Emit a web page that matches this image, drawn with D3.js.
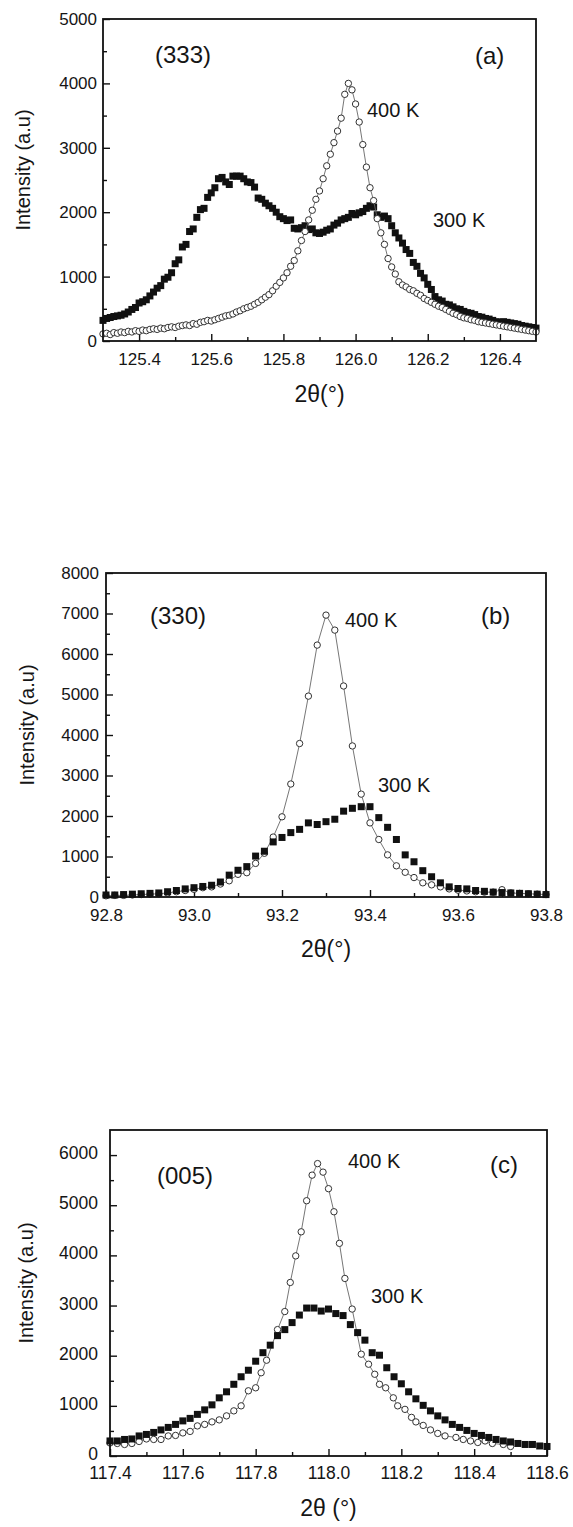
<!DOCTYPE html>
<html>
<head>
<meta charset="utf-8">
<script src="https://cdn.jsdelivr.net/npm/d3@7"></script>
<style>
  body { margin: 0; background: #fff; }
  svg { display: block; }
  text { font-family: "Liberation Sans", Arial, sans-serif; fill: #151515; }
</style>
</head>
<body>
<svg id="chart" width="573" height="1527"></svg>
<script>
// ---------- data ----------
// (a) (333) reflection, 2theta grid 125.30 .. 126.50 every 0.01
var thetaA = d3.range(0, 121).map(i => +(125.30 + i * 0.01).toFixed(2));
var int300a = [
  320, 350, 365, 380, 390, 400, 420, 450, 490, 520,
  590, 610, 640, 700, 760, 820, 860, 960, 990, 1060,
  1200, 1260, 1460, 1500, 1700, 1740, 1920, 2040, 2060, 2230,
  2300, 2380, 2520, 2540, 2470, 2430, 2560, 2560, 2560, 2520,
  2470, 2460, 2390, 2220, 2200, 2140, 2100, 2060, 2000, 1930,
  1900, 1870, 1880, 1750, 1740, 1760, 1790, 1730, 1740, 1680,
  1670, 1690, 1720, 1740, 1800, 1830, 1880, 1900, 1920, 1980,
  1960, 1990, 2010, 2060, 2100, 2080, 1960, 1920, 1940, 1900,
  1790, 1680, 1600, 1520, 1420, 1360, 1220, 1160, 1050, 980,
  880, 800, 690, 640, 620, 570, 560, 530, 500, 490,
  460, 440, 430, 410, 380, 370, 350, 340, 320, 300,
  290, 300, 290, 280, 270, 260, 240, 230, 220, 210,
  200
];
var int400a = [
  110, 120, 100, 130, 120, 140, 130, 150, 140, 160,
  150, 170, 160, 180, 190, 180, 200, 190, 210, 220,
  210, 230, 240, 250, 240, 270, 260, 290, 300, 320,
  310, 330, 350, 370, 390, 400, 420, 450, 470, 500,
  520, 540, 570, 600, 640, 680, 720, 780, 850, 910,
  980, 1060, 1160, 1250, 1400, 1560, 1700, 1880, 2030, 2200,
  2330, 2520, 2720, 2900, 3080, 3260, 3460, 3830, 4000, 3900,
  3680, 3400, 3050, 2700, 2380, 2180, 1900, 1680, 1500, 1280,
  1150, 1040, 920, 870, 840, 800, 780, 740, 710, 660,
  630, 600, 570, 540, 520, 490, 460, 430, 410, 380,
  360, 350, 330, 320, 300, 290, 280, 270, 260, 250,
  240, 230, 220, 210, 200, 190, 180, 170, 160, 150,
  140
];

// (b) (330) reflection, 2theta grid 92.80 .. 93.80 every 0.02
var thetaB = d3.range(0, 51).map(i => +(92.80 + i * 0.02).toFixed(2));
var int300b = [
  50, 50, 60, 70, 80, 90, 100, 130, 160, 200,
  230, 260, 290, 370, 540, 660, 750, 1010, 1130, 1360,
  1470, 1590, 1670, 1830, 1790, 1860, 1920, 2120, 2190, 2230,
  2230, 1960, 1720, 1420, 1040, 870, 650, 500, 350, 250,
  210, 200, 160, 140, 120, 110, 100, 90, 80, 70,
  60
];
var int400b = [
  30, 40, 40, 50, 60, 70, 80, 100, 130, 160,
  190, 230, 250, 320, 400, 560, 600, 830, 1080, 1480,
  1980, 2790, 3790, 4960, 6220, 6960, 6590, 5210, 3730, 2540,
  1830, 1420, 1040, 770, 610, 480, 350, 300, 250, 200,
  170, 150, 130, 120, 120, 180, 100, 90, 80, 70,
  60
];

// (c) (005) reflection
var thetaC300 = d3.range(0, 61).map(i => +(117.40 + i * 0.02).toFixed(2));
var int300c = [
  300, 300, 330, 340, 400, 430, 470, 520, 570, 630,
  700, 750, 830, 920, 1020, 1160, 1280, 1430, 1580, 1710,
  1890, 2060, 2210, 2400, 2520, 2660, 2810, 2950, 2950, 2890,
  2930, 2840, 2800, 2620, 2460, 2310, 2060, 2010, 1760, 1580,
  1440, 1280, 1140, 1010, 900, 800, 720, 630, 570, 510,
  450, 410, 370, 330, 300, 280, 250, 230, 230, 200,
  190
];
var thetaC400 = [
  117.40, 117.42, 117.44, 117.46, 117.48, 117.50, 117.52, 117.54, 117.56, 117.58,
  117.60, 117.62, 117.64, 117.66, 117.68, 117.70, 117.72, 117.74, 117.76, 117.78,
  117.80, 117.815, 117.83, 117.86, 117.88, 117.895, 117.91, 117.925, 117.94, 117.955,
  117.97, 117.985, 118.00, 118.015, 118.03, 118.045, 118.065, 118.09, 118.11, 118.127,
  118.14, 118.157, 118.178, 118.19, 118.21, 118.228, 118.24, 118.26, 118.28, 118.30,
  118.32, 118.35, 118.37, 118.39, 118.41, 118.43, 118.45, 118.48, 118.50
];
var int400c = [
  260, 250, 230, 250, 290, 340, 330, 330, 400, 410,
  460, 490, 600, 630, 680, 720, 800, 900, 1000, 1300,
  1360, 1660, 1910, 2520, 2880, 3460, 3990, 4470, 5090, 5600,
  5830, 5660, 5330, 4870, 4240, 3540, 2930, 2030, 1830, 1630,
  1430, 1360, 1160, 1000, 930, 770, 680, 610, 520, 450,
  400, 370, 330, 300, 270, 300, 250, 230, 190
];

// tick values
var xTicksA = [125.4, 125.6, 125.8, 126.0, 126.2, 126.4];
var xMinorA = [125.5, 125.7, 125.9, 126.1, 126.3];
var yTicksA = [0, 1000, 2000, 3000, 4000, 5000];
var xTicksB = [92.8, 93.0, 93.2, 93.4, 93.6, 93.8];
var xMinorB = [92.9, 93.1, 93.3, 93.5, 93.7];
var yTicksB = [0, 1000, 2000, 3000, 4000, 5000, 6000, 7000, 8000];
var xTicksC = [117.4, 117.6, 117.8, 118.0, 118.2, 118.4, 118.6];
var xMinorC = [117.5, 117.7, 117.9, 118.1, 118.3, 118.5];
var yTicksC = [0, 1000, 2000, 3000, 4000, 5000, 6000];

var svg = d3.select("#chart");

function zip(xs, ys) {
  return xs.map((t, i) => ({ t: t, v: ys[i] }));
}

function drawPanel(p) {
  var x = d3.scaleLinear().domain(p.xDomain).range([p.left, p.right]);
  var y = d3.scaleLinear().domain(p.yDomain).range([p.bottom, p.top]);
  var g = svg.append("g");

  // minor ticks first, then major with labels
  var yMinor = d3.range(p.yDomain[0] + 500, p.yDomain[1], 1000);

  g.append("g")
    .attr("transform", "translate(0," + p.bottom + ")")
    .call(d3.axisBottom(x).tickValues(p.xMinor).tickSize(-4).tickFormat(""))
    .call(a => a.select(".domain").remove());
  g.append("g")
    .attr("transform", "translate(" + p.left + ",0)")
    .call(d3.axisLeft(y).tickValues(yMinor).tickSize(-4).tickFormat(""))
    .call(a => a.select(".domain").remove());

  var xAx = g.append("g")
    .attr("transform", "translate(0," + p.bottom + ")")
    .call(d3.axisBottom(x).tickValues(p.xTicks).tickSize(-7).tickPadding(p.xPad)
      .tickFormat(d3.format(".1f")));
  xAx.select(".domain").remove();
  xAx.attr("font-size", p.tickFont).attr("font-family", null);

  var yAx = g.append("g")
    .attr("transform", "translate(" + p.left + ",0)")
    .call(d3.axisLeft(y).tickValues(p.yTicks).tickSize(-7).tickPadding(p.yPad)
      .tickFormat(d3.format("d")));
  yAx.select(".domain").remove();
  yAx.attr("font-size", p.tickFont).attr("font-family", null);
  yAx.selectAll("text").attr("dy", p.yDy);

  g.selectAll(".tick line").attr("stroke", "#111").attr("stroke-width", 1.4);
  g.selectAll(".tick text").attr("fill", "#151515");

  // data
  var d300 = zip(p.x300, p.y300);
  var d400 = zip(p.x400, p.y400);
  var line = d3.line().x(d => x(d.t)).y(d => y(d.v));

  function draw400() {
    g.append("path")
      .datum(d400)
      .attr("fill", "none")
      .attr("stroke", "#666")
      .attr("stroke-width", 0.9)
      .attr("d", line);
    g.selectAll(null)
      .data(d400)
      .enter().append("circle")
      .attr("cx", d => x(d.t))
      .attr("cy", d => y(d.v))
      .attr("r", 3.2)
      .attr("fill", "#fff")
      .attr("stroke", "#333")
      .attr("stroke-width", 1);
  }
  function draw300() {
    g.selectAll(null)
      .data(d300)
      .enter().append("rect")
      .attr("x", d => x(d.t) - 3.5)
      .attr("y", d => y(d.v) - 3.5)
      .attr("width", 7)
      .attr("height", 7)
      .attr("fill", "#111");
  }
  if (p.circlesOnTop) { draw300(); draw400(); } else { draw400(); draw300(); }

  // frame
  g.append("rect")
    .attr("x", p.left).attr("y", p.top)
    .attr("width", p.right - p.left).attr("height", p.bottom - p.top)
    .attr("fill", "none").attr("stroke", "#111").attr("stroke-width", 1.8);

  // axis titles
  g.append("text")
    .attr("x", (p.left + p.right) / 2)
    .attr("y", p.bottom + p.titleOffset)
    .attr("text-anchor", "middle")
    .attr("font-size", 23)
    .text(p.xTitle);
  g.append("text")
    .attr("transform", "translate(" + p.yTitleX + "," + ((p.top + p.bottom) / 2 - 10) + ") rotate(-90)")
    .attr("text-anchor", "middle")
    .attr("font-size", 20)
    .text("Intensity (a.u)");

  // annotations
  p.notes.forEach(n => {
    g.append("text")
      .attr("x", n.x).attr("y", n.y)
      .attr("font-size", n.size)
      .text(n.text);
  });
}

drawPanel({
  left: 103, right: 536, top: 19, bottom: 341,
  xDomain: [125.3, 126.5], yDomain: [0, 5000],
  xTicks: xTicksA, xMinor: xMinorA, yTicks: yTicksA,
  x300: thetaA, y300: int300a, x400: thetaA, y400: int400a,
  circlesOnTop: true,
  tickFont: 17, xPad: 12, yPad: 6, yDy: "0.32em",
  xTitle: "2\u03b8(\u00b0)", titleOffset: 61, yTitleX: 30,
  notes: [
    { text: "(333)", x: 155, y: 63, size: 24 },
    { text: "(a)", x: 475, y: 64, size: 24 },
    { text: "400 K", x: 367, y: 117, size: 20 },
    { text: "300 K", x: 433, y: 227, size: 20 }
  ]
});

drawPanel({
  left: 106, right: 546, top: 573, bottom: 897,
  xDomain: [92.8, 93.8], yDomain: [0, 8000],
  xTicks: xTicksB, xMinor: xMinorB, yTicks: yTicksB,
  x300: thetaB, y300: int300b, x400: thetaB, y400: int400b,
  circlesOnTop: false,
  tickFont: 17, xPad: 12, yPad: 7, yDy: "0.32em",
  xTitle: "2\u03b8(\u00b0)", titleOffset: 60, yTitleX: 34,
  notes: [
    { text: "(330)", x: 150, y: 624, size: 24 },
    { text: "(b)", x: 481, y: 624, size: 24 },
    { text: "400 K", x: 345, y: 627, size: 20 },
    { text: "300 K", x: 378, y: 792, size: 20 }
  ]
});

drawPanel({
  left: 110, right: 547, top: 1130, bottom: 1456,
  xDomain: [117.4, 118.6], yDomain: [0, 6500],
  xTicks: xTicksC, xMinor: xMinorC, yTicks: yTicksC,
  x300: thetaC300, y300: int300c, x400: thetaC400, y400: int400c,
  circlesOnTop: false,
  tickFont: 17.5, xPad: 11, yPad: 12, yDy: "0.2em",
  xTitle: "2\u03b8 (\u00b0)", titleOffset: 60, yTitleX: 33,
  notes: [
    { text: "(005)", x: 157, y: 1184, size: 24 },
    { text: "(c)", x: 490, y: 1173, size: 24 },
    { text: "400 K", x: 348, y: 1168, size: 20 },
    { text: "300 K", x: 371, y: 1303, size: 20 }
  ]
});
</script>
</body>
</html>
